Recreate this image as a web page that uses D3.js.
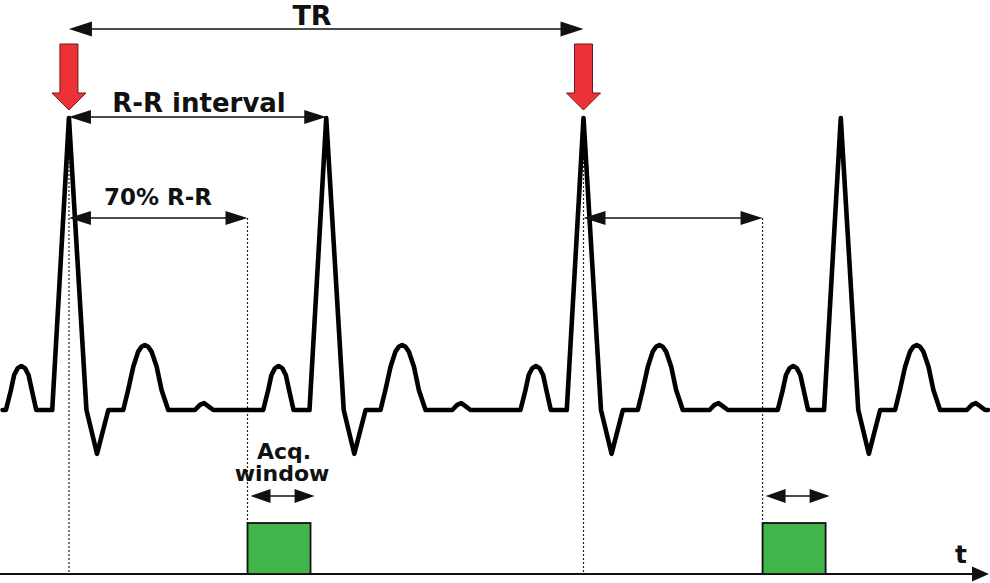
<!DOCTYPE html>
<html>
<head>
<meta charset="utf-8">
<script src="https://cdn.jsdelivr.net/npm/d3@7/dist/d3.min.js"></script>
<style>
  html, body { margin: 0; padding: 0; background: #fff; }
  svg { display: block; }
  text { font-family: "DejaVu Sans", Verdana, sans-serif; font-weight: bold; fill: #111; }
</style>
</head>
<body>
<svg id="chart" width="990" height="583"></svg>
<script>
// ---------------- data ----------------
// R-peak times (ms); R-R interval = 1000 ms
const rPeaks = [268, 1268, 2268, 3268];
// beats on which the scanner is triggered (red arrows)
const triggerPeaks = [268, 2268];
// one heartbeat, time offset from the R peak (ms) and amplitude (mV)
const beatTime = [-245, -226, -213, -199, -185, -171, -157, -144, -127,
                  -65, 0, 68, 109, 153, 208,
                  211, 230, 250, 269, 282, 295, 308, 321, 341, 360, 386,
                  490, 509, 525, 541, 561];
const beatVolt = [0, 0.10, 0.18, 0.215, 0.226, 0.215, 0.18, 0.10, 0,
                  0, 1.5, 0, -0.225, 0, 0,
                  0, 0.103, 0.222, 0.30, 0.325, 0.334, 0.325, 0.30, 0.222, 0.103, 0,
                  0, 0.026, 0.035, 0.02, 0];
const traceStart = 10, traceEnd = 3840;           // ms
// acquisition windows (start ms, duration ms)
const acqStart = [962, 2964];
const acqDuration = 245;
// labels
const labelTR = "TR";
const labelRR = "R-R interval";
const labelPct = "70% R-R";
const labelAcq = ["Acq.", "window"];
const labelT = "t";

// ---------------- scales ----------------
const W = 990, H = 583;
const svg = d3.select("#chart");
const x = d3.scaleLinear().domain([0, 3848]).range([0, 990]);
const y = d3.scaleLinear().domain([0, 1.5]).range([410, 118]);

const yTR = 29, yRR = 117, yPct = 218, yAcqArrow = 496, yBoxTop = 523, yAxis = 574;

function arrowHead(g, tipX, tipY, dir, len, half) {
  // dir: +1 points right, -1 points left
  g.append("path")
    .attr("d", `M${tipX},${tipY} L${tipX - dir * len},${tipY - half} L${tipX - dir * len},${tipY + half} Z`)
    .attr("fill", "#111");
}
function dblArrow(g, x1, x2, yy, len, half, sw) {
  g.append("line").attr("x1", x1 + len * 0.5).attr("x2", x2 - len * 0.5)
    .attr("y1", yy).attr("y2", yy).attr("stroke", "#111").attr("stroke-width", sw);
  arrowHead(g, x1, yy, -1, len, half);
  arrowHead(g, x2, yy, 1, len, half);
}

// ---------------- dotted guide lines ----------------
const guides = svg.append("g");
triggerPeaks.forEach(r => {
  guides.append("line").attr("x1", x(r)).attr("x2", x(r))
    .attr("y1", y(1.5)).attr("y2", yAxis)
    .attr("stroke", "#222").attr("stroke-width", 1.2).attr("stroke-dasharray", "2,2");
});
acqStart.forEach(a => {
  guides.append("line").attr("x1", x(a)).attr("x2", x(a))
    .attr("y1", yPct).attr("y2", yBoxTop)
    .attr("stroke", "#222").attr("stroke-width", 1.2).attr("stroke-dasharray", "2,2");
});

// ---------------- time axis ----------------
const axisG = svg.append("g");
axisG.append("line").attr("x1", 0).attr("x2", 978).attr("y1", yAxis).attr("y2", yAxis)
  .attr("stroke", "#111").attr("stroke-width", 2);
arrowHead(axisG, 989, yAxis, 1, 17, 7.5);
axisG.append("text").attr("x", 961).attr("y", 563).attr("text-anchor", "middle")
  .attr("font-size", 25).text(labelT);

// ---------------- acquisition windows ----------------
const acqG = svg.append("g");
acqStart.forEach(a => {
  acqG.append("rect")
    .attr("x", x(a)).attr("y", yBoxTop)
    .attr("width", x(a + acqDuration) - x(a)).attr("height", yAxis - yBoxTop)
    .attr("fill", "#41b54a").attr("stroke", "#111").attr("stroke-width", 1.8);
  dblArrow(acqG, x(a) + 3, x(a + acqDuration) + 4, yAcqArrow, 20, 7, 1.6);
});
acqG.append("text").attr("x", 284).attr("y", 459).attr("text-anchor", "middle")
  .attr("font-size", 22).text(labelAcq[0]);
acqG.append("text").attr("x", 282).attr("y", 481).attr("text-anchor", "middle")
  .attr("font-size", 22).text(labelAcq[1]);

// ---------------- ECG trace ----------------
const pts = [[traceStart, 0]];
rPeaks.forEach(r => {
  beatTime.forEach((t, i) => pts.push([r + t, beatVolt[i]]));
});
pts.push([traceEnd, 0]);
const line = d3.line().x(d => x(d[0])).y(d => y(d[1])).curve(d3.curveLinear);
svg.append("path").attr("d", line(pts))
  .attr("fill", "none").attr("stroke", "#000").attr("stroke-width", 4.6)
  .attr("stroke-linejoin", "round").attr("stroke-linecap", "round");

// ---------------- interval arrows ----------------
const ann = svg.append("g");
// TR
dblArrow(ann, x(triggerPeaks[0]), x(triggerPeaks[1]), yTR, 23, 7.5, 1.6);
ann.append("text").attr("x", 312).attr("y", 25).attr("text-anchor", "middle")
  .attr("font-size", 27).text(labelTR);
// R-R interval
dblArrow(ann, x(rPeaks[0]), x(rPeaks[1]), yRR, 22, 7, 1.6);
ann.append("text").attr("x", 199).attr("y", 112).attr("text-anchor", "middle")
  .attr("font-size", 26).text(labelRR);
// 70% R-R arrows
triggerPeaks.forEach((r, i) => {
  dblArrow(ann, x(r), x(acqStart[i]), yPct, 22, 7, 1.6);
});
ann.append("text").attr("x", 158).attr("y", 205).attr("text-anchor", "middle")
  .attr("font-size", 23).text(labelPct);

// ---------------- red trigger arrows ----------------
triggerPeaks.forEach(r => {
  const cx = x(r);
  const top = 44, neck = 93, tip = 110, sh = 9, hh = 17;
  svg.append("path")
    .attr("d", `M${cx - sh},${top} L${cx + sh},${top} L${cx + sh},${neck} L${cx + hh},${neck} L${cx},${tip} L${cx - hh},${neck} L${cx - sh},${neck} Z`)
    .attr("fill", "#ec3237").attr("stroke", "#6b1a1a").attr("stroke-width", 1);
});
</script>
</body>
</html>
